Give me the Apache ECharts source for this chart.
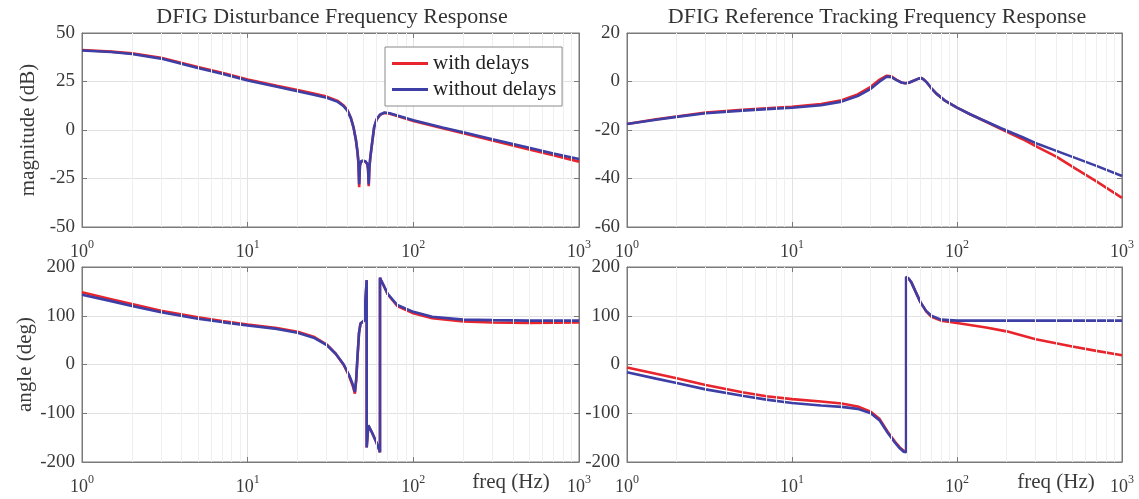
<!DOCTYPE html>
<html>
<head>
<meta charset="utf-8">
<script src="https://cdn.jsdelivr.net/npm/echarts@6/dist/echarts.min.js"></script>
<style>html,body{margin:0;padding:0;background:#fff}#c{width:1139px;height:499px}</style>
</head>
<body>
<div id="c"></div>
<script>
// ---------- data ----------
const seriesNames = ['with delays', 'without delays'];
const titles = ['DFIG Disturbance Frequency Response', 'DFIG Reference Tracking Frequency Response'];
const xTicks = [1, 10, 100, 1000];
const minorFreqs = [2,3,4,5,6,7,8,9,20,30,40,50,60,70,80,90,200,300,400,500,600,700,800,900];

// top-left: disturbance magnitude (dB)
const freqMagDist = [1,1.5,2,3,5,7,10,15,20,25,30,35,38,40,42,43.5,45,46,46.6,47.1,47.6,48.5,50,51.5,52.8,53.3,53.8,54.3,55,56.5,58,60,63,67,72,80,100,150,200,300,500,700,1000];
const magDistWith    = [41.2,40.4,39.5,37.2,32.5,29.5,26,22.8,20.6,18.8,17.2,15,12.6,10.3,6.2,1.5,-5,-11.5,-17,-29.5,-18.5,-16.2,-16,-16.4,-17.8,-20.5,-29,-19.5,-14.2,-6.2,1.3,5.3,7.8,8.8,8.4,7.2,4.7,0.9,-1.7,-5.4,-10,-13,-16.3];
const magDistWithout = [41,40.2,39.2,36.8,32,29,25.5,22.3,20,18.2,16.6,14.5,12.2,10,6,1.5,-5,-11,-16,-28,-18,-16,-15.8,-16.2,-17.5,-20,-28,-19,-14,-6,1.5,5.5,8,9,8.6,7.5,5,1.3,-1.2,-4.8,-9.2,-12.1,-15];

// top-right: reference tracking magnitude (dB)
const freqMagRef = [1,1.5,2,3,5,7,10,15,20,25,30,34,37.5,40,43,46,48.5,51,55,58,61,63,66,70,75,85,100,120,150,185,250,310,400,520,700,1000];
const magRefWith    = [-17.5,-15.6,-14.4,-12.8,-11.7,-11,-10.4,-9.3,-7.7,-5.3,-2.2,0.8,2.4,2.1,0.7,-0.4,-0.7,-0.5,0.4,1.1,1.4,0.8,-0.6,-2.8,-5,-8,-10.8,-13.5,-16.6,-19.6,-23.8,-27.2,-31,-35.8,-41.2,-48];
const magRefWithout = [-17.5,-15.8,-14.6,-13.1,-12,-11.4,-10.8,-9.8,-8.3,-6,-3,0,2,1.8,0.6,-0.4,-0.7,-0.5,0.4,1.1,1.4,0.8,-0.6,-2.8,-5,-8,-10.8,-13.5,-16.5,-19.3,-23,-25.8,-28.6,-31.5,-34.8,-39];

// bottom-left: disturbance angle (deg)
const freqAngDist = [1,1.5,2,3,5,7,10,15,20,25,30,34,38,41,43,44.4,45.2,46,47,48,49,50.5,51.8,52.3,52.3,53.5,56,59,61.5,62.9,62.9,64,66,70,80,100,130,200,300,500,700,1000];
const angDistWith    = [148,134,124,110,97,89,82,75,67,57,41,22,-1,-24,-43,-60,-32,14,64,84,88,90,92,173,-170,-125,-138,-155,-170,-180,178,172,163,144,120,105,95,88.5,86,85,85.5,86];
const angDistWithout = [143,130,120,107,94,87,80,73,65,55,40,22,0,-22,-40,-56,-30,15,65,84,88,90,92,173,-170,-125,-138,-155,-170,-180,178,172,163,145,122,108,98,92,91,90,90,90];

// bottom-right: reference tracking angle (deg)
const freqAngRef = [1,1.5,2,3,5,7,10,15,20,25,30,34,38,42,45,47.5,49.2,49.2,51,53,56,60,65,70,80,100,150,200,300,500,700,1000];
const angRefWith    = [-6,-19,-28,-42,-57,-65,-71,-76,-80,-86,-97,-112,-138,-158,-170,-177,-179,179,176,168,150,128,109,98,90,85,76,68,52,37,28,19];
const angRefWithout = [-16,-29,-38,-51,-64,-72,-79,-84,-87,-91,-100,-115,-140,-160,-172,-179,-180,180,176,168,150,128,110,100,92,90,90,90,90,90,90,90];

const yAxisNames = ['magnitude (dB)', '', 'angle (deg)', ''];
const yRanges = [[-50, 50, 25], [-60, 20, 20], [-200, 200, 100], [-200, 200, 100]];
const xName = 'freq (Hz)';

// ---------- chart ----------
const FONT = '"Liberation Serif", "Times New Roman", serif';
const RED = '#e8242c', BLUE = '#3d3fa6';
const TXT = '#3a3a3a';
const AX = '#7a7a7a';
const grids = [
  {left: 82, top: 33, width: 497, height: 194},
  {left: 627, top: 33, width: 495, height: 194},
  {left: 82, top: 267, width: 497, height: 195},
  {left: 627, top: 267, width: 495, height: 195}
];
const panels = [
  [freqMagDist, magDistWith, magDistWithout],
  [freqMagRef, magRefWith, magRefWithout],
  [freqAngDist, angDistWith, angDistWithout],
  [freqAngRef, angRefWith, angRefWithout]
];
const pair = (fs, vs) => fs.map((f, i) => [f, vs[i]]);

const xAxes = [], yAxes = [], series = [];
grids.forEach((g, i) => {
  xAxes.push({
    type: 'log', logBase: 10, gridIndex: i, min: 1, max: 1000, interval: 1, position: 'bottom',
    axisLine: {show: true, onZero: false, lineStyle: {color: AX, width: 1}},
    axisTick: {show: true, inside: true, length: 5, lineStyle: {color: AX}},
    splitLine: {show: true, lineStyle: {color: '#e2e2e2', width: 1}},
    axisLabel: {
      margin: 8, color: TXT,
      formatter: v => '{b|10}{s|' + Math.round(Math.log10(v)) + '}',
      rich: {
        b: {fontFamily: FONT, fontSize: 18, color: TXT, padding: [8, 0, 0, 0]},
        s: {fontFamily: FONT, fontSize: 12, color: TXT, padding: [0, 0, 6, 0]}
      }
    }
  });
  const r = yRanges[i];
  yAxes.push({
    type: 'value', gridIndex: i, min: r[0], max: r[1], interval: r[2], position: 'left',
    name: yAxisNames[i], nameLocation: 'middle', nameGap: 43,
    nameTextStyle: {fontFamily: FONT, fontSize: 21, color: TXT},
    axisLine: {show: true, onZero: false, lineStyle: {color: AX, width: 1}},
    axisTick: {show: true, inside: true, length: 5, lineStyle: {color: AX}},
    splitLine: {show: true, lineStyle: {color: '#e2e2e2', width: 1}},
    axisLabel: {margin: 7, fontFamily: FONT, fontSize: 19, color: TXT}
  });
});
// mirrored top / right axes (box ticks)
grids.forEach((g, i) => {
  xAxes.push({
    type: 'log', logBase: 10, gridIndex: i, min: 1, max: 1000, interval: 1, position: 'top',
    axisLine: {show: true, onZero: false, lineStyle: {color: AX, width: 1}},
    axisTick: {show: true, inside: true, length: 5, lineStyle: {color: AX}},
    splitLine: {show: false}, axisLabel: {show: false}
  });
  const r = yRanges[i];
  yAxes.push({
    type: 'value', gridIndex: i, min: r[0], max: r[1], interval: r[2], position: 'right',
    axisLine: {show: true, onZero: false, lineStyle: {color: AX, width: 1}},
    axisTick: {show: true, inside: true, length: 5, lineStyle: {color: AX}},
    splitLine: {show: false}, axisLabel: {show: false}
  });
});

panels.forEach((p, i) => {
  // minor log grid lines
  series.push({
    type: 'line', xAxisIndex: i, yAxisIndex: i, data: [], z: 1, silent: true,
    markLine: {
      silent: true, symbol: ['none', 'none'], label: {show: false},
      lineStyle: {color: '#efefef', width: 1, type: 'solid'},
      data: minorFreqs.map(f => ({xAxis: f}))
    }
  });
  series.push({
    name: seriesNames[0], type: 'line', xAxisIndex: i, yAxisIndex: i, z: 3,
    data: pair(p[0], p[1]), showSymbol: false, symbol: 'none',
    lineStyle: {color: RED, width: 2.6}, itemStyle: {color: RED}
  });
  series.push({
    name: seriesNames[1], type: 'line', xAxisIndex: i, yAxisIndex: i, z: 4,
    data: pair(p[0], p[2]), showSymbol: false, symbol: 'none',
    lineStyle: {color: BLUE, width: 2.6}, itemStyle: {color: BLUE}
  });
});

const option = {
  animation: false,
  backgroundColor: '#ffffff',
  grid: grids.map(g => Object.assign({show: true, borderColor: AX, borderWidth: 1, backgroundColor: 'transparent'}, g)),
  xAxis: xAxes,
  yAxis: yAxes,
  series: series,
  legend: {
    data: seriesNames, left: 385, top: 47, orient: 'vertical',
    icon: 'rect', itemWidth: 36, itemHeight: 3, itemGap: 5,
    padding: [6, 6, 6, 7], borderColor: '#8a8a8a', borderWidth: 1, backgroundColor: '#ffffff',
    textStyle: {fontFamily: FONT, fontSize: 21, color: '#222'}, z: 10
  },
  graphic: [
    {type: 'text', x: 332, y: 17, z: 20, style: {text: titles[0], align: 'center', verticalAlign: 'middle', font: '22px ' + FONT, fill: '#333'}},
    {type: 'text', x: 877, y: 17, z: 20, style: {text: titles[1], align: 'center', verticalAlign: 'middle', font: '22px ' + FONT, fill: '#333'}},
    {type: 'text', x: 511, y: 482, z: 20, style: {text: xName, align: 'center', verticalAlign: 'middle', font: '21px ' + FONT, fill: TXT}},
    {type: 'text', x: 1056, y: 482, z: 20, style: {text: xName, align: 'center', verticalAlign: 'middle', font: '21px ' + FONT, fill: TXT}}
  ]
};
const chart = echarts.init(document.getElementById('c'), null, {renderer: 'canvas'});
chart.setOption(option);
</script>
</body>
</html>
